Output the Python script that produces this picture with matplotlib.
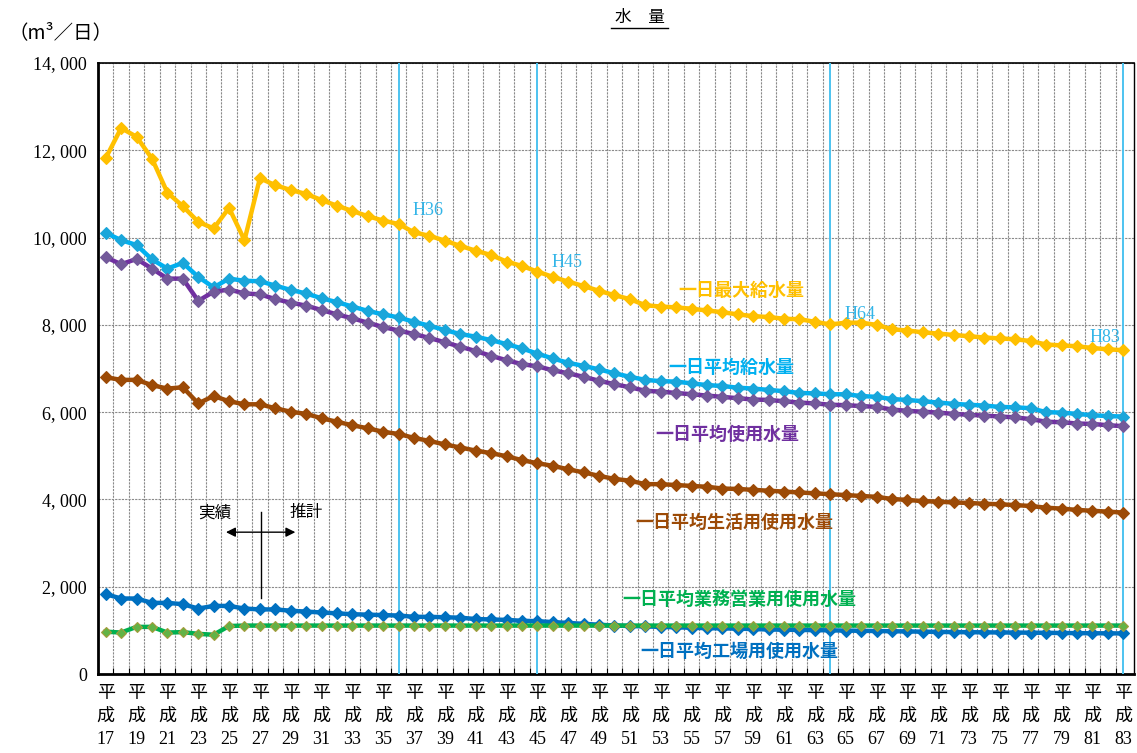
import matplotlib.pyplot as plt
from matplotlib.lines import Line2D

# 平成17〜83年度
years = list(range(17, 84))

max_supply = [11820, 12510, 12310, 11810, 11030, 10720, 10360, 10210, 10680, 9940,
              11360, 11200, 11090, 11000, 10860, 10730, 10610, 10490, 10390, 10310,
              10120, 10040, 9930, 9810, 9700, 9600, 9450, 9350, 9220, 9100,
              8990, 8890, 8780, 8680, 8590, 8450, 8420, 8400, 8370, 8330,
              8290, 8240, 8200, 8180, 8140, 8130, 8070, 8010, 8050, 8050,
              8000, 7900, 7870, 7830, 7800, 7770, 7740, 7710, 7690, 7670,
              7630, 7550, 7530, 7510, 7470, 7440, 7420]
avg_supply = [10110, 9940, 9830, 9500, 9290, 9420, 9100, 8860, 9060, 9010,
              9000, 8900, 8800, 8720, 8610, 8520, 8420, 8320, 8240, 8170,
              8070, 7980, 7880, 7790, 7730, 7650, 7560, 7460, 7340, 7230,
              7130, 7060, 6980, 6890, 6810, 6740, 6710, 6700, 6660, 6620,
              6600, 6560, 6540, 6510, 6480, 6440, 6430, 6410, 6410, 6370,
              6350, 6300, 6280, 6250, 6220, 6190, 6170, 6150, 6120, 6110,
              6090, 6000, 5990, 5960, 5930, 5910, 5900]
avg_use = [9550, 9390, 9510, 9290, 9060, 9060, 8550, 8760, 8810, 8720,
           8700, 8590, 8510, 8440, 8340, 8240, 8150, 8050, 7950, 7870,
           7790, 7700, 7600, 7500, 7400, 7290, 7190, 7100, 7050, 6960,
           6890, 6810, 6720, 6640, 6570, 6490, 6470, 6440, 6410, 6380,
           6350, 6320, 6290, 6280, 6250, 6220, 6200, 6170, 6160, 6140,
           6120, 6060, 6030, 6010, 5990, 5960, 5940, 5920, 5900, 5880,
           5840, 5780, 5770, 5740, 5730, 5700, 5680]
avg_domestic = [6800, 6740, 6740, 6620, 6540, 6570, 6200, 6370, 6250, 6180,
                6180, 6090, 6010, 5960, 5860, 5780, 5700, 5630, 5550, 5500,
                5410, 5340, 5260, 5190, 5120, 5060, 4990, 4900, 4830, 4770,
                4690, 4620, 4540, 4470, 4430, 4350, 4350, 4330, 4310, 4290,
                4250, 4240, 4220, 4200, 4180, 4160, 4140, 4120, 4100, 4080,
                4060, 4010, 3990, 3960, 3950, 3930, 3920, 3900, 3890, 3870,
                3850, 3810, 3790, 3760, 3740, 3720, 3700]
avg_factory = [1830, 1730, 1730, 1630, 1630, 1600, 1500, 1560, 1560, 1500,
               1480, 1480, 1450, 1430, 1410, 1390, 1370, 1360, 1350, 1340,
               1310, 1310, 1300, 1290, 1260, 1250, 1240, 1220, 1210, 1190,
               1170, 1150, 1130, 1110, 1100, 1090, 1080, 1070, 1060, 1050,
               1045, 1040, 1030, 1020, 1015, 1010, 1005, 1000, 995, 990,
               985, 980, 975, 970, 965, 960, 958, 955, 952, 950,
               947, 944, 940, 937, 934, 932, 930]
avg_business = [970, 950, 1080, 1080, 950, 960, 920, 900, 1100, 1110,
                1110, 1110, 1110, 1110, 1110, 1110, 1110, 1110, 1110, 1110,
                1110, 1110, 1110, 1110, 1110, 1110, 1110, 1110, 1110, 1110,
                1110, 1110, 1110, 1110, 1110, 1110, 1110, 1110, 1110, 1110,
                1110, 1110, 1110, 1110, 1110, 1110, 1110, 1110, 1110, 1110,
                1110, 1110, 1110, 1110, 1110, 1110, 1110, 1110, 1110, 1110,
                1110, 1110, 1110, 1110, 1110, 1110, 1110]

target_years = [36, 45, 64, 83]
target_labels = ["H36", "H45", "H64", "H83"]

SERIF = ["Liberation Serif", "Noto Sans CJK JP"]
GOTHIC = ["Noto Sans CJK JP", "DejaVu Sans"]

fig = plt.figure(figsize=(11.37, 7.53), dpi=100)
ax = fig.add_axes([0.0862, 0.1049, 0.9112, 0.8114])

series = [
    ("一日最大給水量", max_supply, "#FFC000", "#FFC000", "#FFC000", 6.5, (58.2, 8780)),
    ("一日平均給水量", avg_supply, "#00B0F0", "#1AA6DA", "#1AA6DA", 6.5, (57.6, 7030)),
    ("一日平均使用水量", avg_use, "#7030A0", "#73599A", "#73599A", 6.5, (57.3, 5480)),
    ("一日平均生活用使用水量", avg_domestic, "#9C4A06", "#9C4A06", "#9C4A06", 6.5, (57.8, 3480)),
    ("一日平均工場用使用水量", avg_factory, "#0070C0", "#0070C0", "#0070C0", 6.0, (58.1, 530)),
    ("一日平均業務営業用使用水量", avg_business, "#00B050", "#62B346", "#A59B3C", 5.5, (58.1, 1700)),
]

for name, vals, color, mface, medge, ms, (lx, ly) in series:
    ax.plot(years, vals, color=color, lw=3.2, marker="D", markersize=ms,
            markerfacecolor=mface, markeredgecolor=medge, markeredgewidth=0.8,
            solid_joinstyle="round", zorder=4)
    ax.text(lx, ly, name, color=color, fontsize=13, fontweight="bold",
            family=GOTHIC, ha="center", va="center", zorder=5)

# 目標年度の縦線
for yr in target_years:
    ax.axvline(yr, color="#4DC3F0", lw=1.4, zorder=3)
label_pos = [(37.9, 10620), (46.9, 9440), (65.9, 8230), (81.8, 7700)]
for lab, (tx, ty) in zip(target_labels, label_pos):
    ax.text(tx, ty, lab, color="#33B5E8", fontsize=13, family=SERIF,
            ha="center", va="center", zorder=5)

# 実績／推計の区切り
ax.plot([27.05, 27.05], [1740, 3720], color="black", lw=1.0, zorder=5)
ax.annotate("", xy=(24.8, 3250), xytext=(29.3, 3250),
            arrowprops=dict(arrowstyle="<|-|>", color="black", lw=1.0,
                            mutation_scale=14, shrinkA=0, shrinkB=0), zorder=5)
ax.text(24.1, 3690, "実績", fontsize=12, family=GOTHIC, ha="center", va="center")
ax.text(30.0, 3690, "推計", fontsize=12, family=GOTHIC, ha="center", va="center")

ax.set_xlim(16.5, 83.7)
ax.set_ylim(0, 14000)

yticks = list(range(0, 14001, 2000))
ax.set_yticks(yticks)
ax.set_yticklabels(["0" if v == 0 else f"{v // 1000}, {v % 1000:03d}" for v in yticks],
                   family=SERIF, fontsize=13)
xt = years[::2]
ax.set_xticks(xt)
ax.set_xticklabels([f"平\n成\n{y}" for y in xt], family=SERIF, fontsize=13,
                   linespacing=1.45)
ax.tick_params(axis="x", length=0, pad=8)
ax.tick_params(axis="y", length=0, pad=8)

# 年度区切りのグリッド
ax.set_xticks([y + 0.5 for y in years[:-1]], minor=True)
ax.tick_params(axis="x", which="minor", direction="in", length=4, width=0.8)
ax.grid(which="minor", axis="x", color="#8A8A8A", lw=0.8, ls=(0, (2, 1)), zorder=1)
ax.grid(which="major", axis="y", color="#8A8A8A", lw=0.8, ls=(0, (2, 1)), zorder=1)
ax.grid(which="major", axis="x", visible=False)
ax.set_axisbelow(True)

for side in ["left", "bottom"]:
    ax.spines[side].set_linewidth(2.0)
ax.spines["top"].set_linewidth(1.2)
ax.spines["right"].set_linewidth(1.0)

fig.text(0.5628, 0.976, "水　量", fontsize=12, family=SERIF, ha="center", va="center")
fig.add_artist(Line2D([611 / 1137, 668 / 1137], [1 - 28 / 753, 1 - 28 / 753],
                      color="black", lw=1.0))
fig.text(0.053, 0.957, "（m³／日）", fontsize=14, family=GOTHIC, ha="center", va="center")

fig.savefig("out.png", dpi=100)
